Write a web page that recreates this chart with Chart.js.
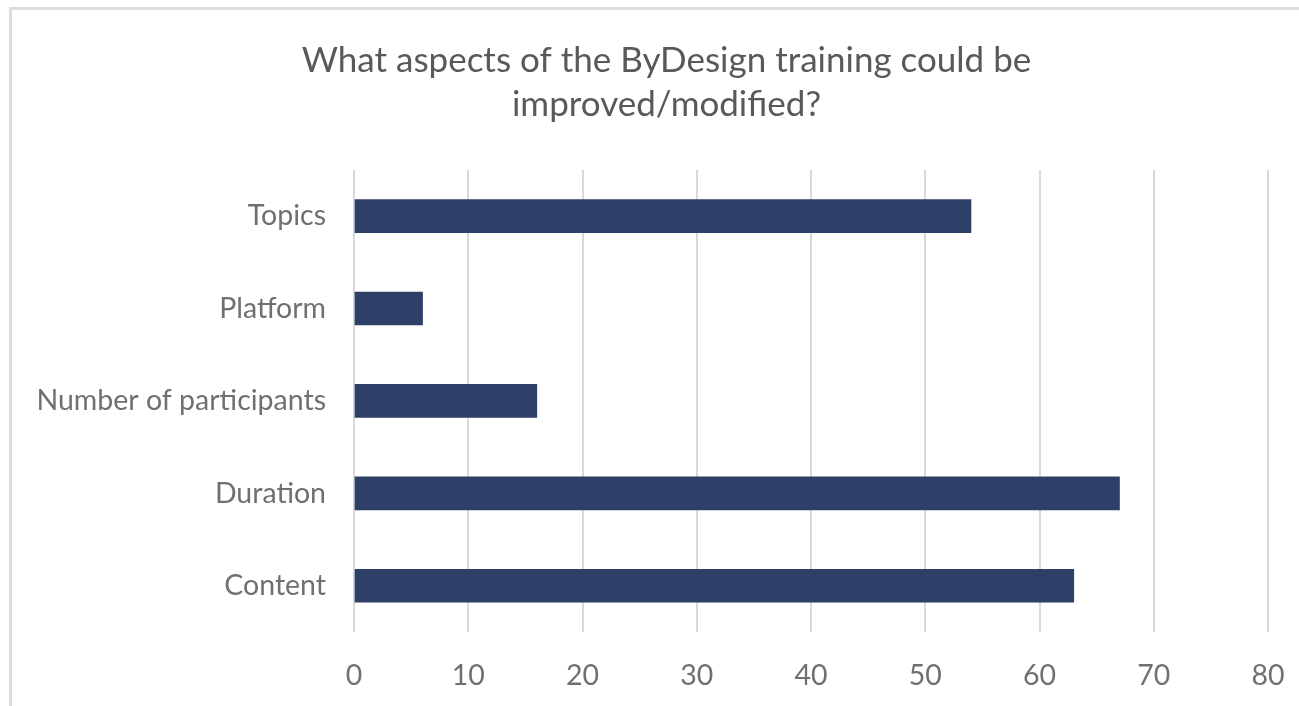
<!DOCTYPE html>
<html lang="en">
<head>
    <meta charset="UTF-8">
    <title>ByDesign training</title>
    <script src="https://cdn.jsdelivr.net/npm/chart.js"></script>
    <style>
        html, body {
            margin: 0;
            padding: 0;
            width: 1299px;
            height: 706px;
            overflow: hidden;
            background: #fff;
        }
        .frame {
            position: absolute;
            left: 9px;
            top: 7px;
            width: 1400px;
            height: 800px;
            border-left: 3px solid #dcdcdc;
            border-top: 3px solid #dcdcdc;
        }
        .chart-box {
            position: absolute;
            left: 10px;
            top: 0;
            width: 1313px;
            height: 706px;
        }
    </style>
</head>
<body>
    <div class="frame"></div>
    <div class="chart-box">
        <canvas id="barChart"></canvas>
    </div>

    <script>
        // data
        const categories = ['Topics', 'Platform', 'Number of participants', 'Duration', 'Content'];
        const answers = [54, 6, 16, 67, 63];
        const titleLines = ['What aspects of the ByDesign training could be', 'improved/modified?'];
        const axisMin = 0;
        const axisMax = 80;
        const axisStep = 10;

        // the title is centred on the whole chart object, not only on the padded area
        const wideTitle = {
            id: 'wideTitle',
            afterLayout(chart) {
                if (chart.titleBlock) chart.titleBlock.right = chart.width;
            }
        };

        const ctx = document.getElementById('barChart').getContext('2d');
        new Chart(ctx, {
            type: 'bar',
            data: {
                labels: categories,
                datasets: [{
                    data: answers,
                    backgroundColor: '#2e4068',
                    borderWidth: 0,
                    barThickness: 33
                }]
            },
            plugins: [wideTitle],
            options: {
                indexAxis: 'y',
                responsive: true,
                maintainAspectRatio: false,
                animation: false,
                layout: { padding: { left: 0, right: 55, top: 0, bottom: 0 } },
                plugins: {
                    legend: { display: false },
                    tooltip: { enabled: false },
                    title: {
                        display: true,
                        text: titleLines,
                        color: '#595959',
                        font: { family: 'Lato', size: 35, weight: 'normal', lineHeight: 1.27 },
                        padding: { top: 38, bottom: 43 }
                    }
                },
                scales: {
                    x: {
                        min: axisMin,
                        max: axisMax,
                        ticks: {
                            stepSize: axisStep,
                            color: '#707070',
                            font: { family: 'Lato', size: 28.5 },
                            padding: 27
                        },
                        grid: { color: '#d9d9d9', lineWidth: 2, drawTicks: false },
                        border: { display: false },
                        afterFit: function (scale) { scale.height = 74; }
                    },
                    y: {
                        ticks: {
                            color: '#707070',
                            font: { family: 'Lato', size: 28.5 },
                            padding: 28
                        },
                        grid: { display: false, drawTicks: false },
                        border: { display: false },
                        afterFit: function (scale) { scale.width = 344; }
                    }
                }
            }
        });
    </script>
</body>
</html>
